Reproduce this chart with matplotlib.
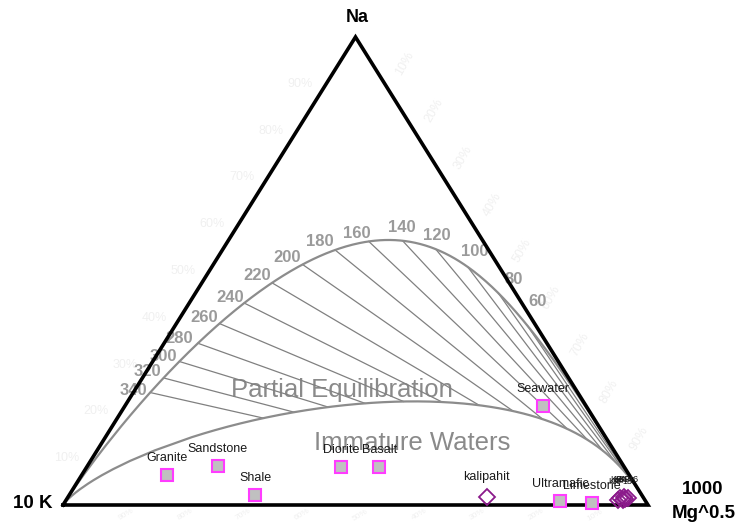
import numpy as np
import matplotlib.pyplot as plt

plt.rcParams['font.family'] = ['Liberation Sans', 'DejaVu Sans']

# isotherms labelled on the full equilibrium curve (deg C)
temps = [60, 80, 100, 120, 140, 160, 180, 200, 220, 240, 260, 280, 300, 320, 340]

# reference rocks / waters, plotted as % of Na, 10K, 1000*Mg^0.5
rock_names = ["Granite", "Sandstone", "Shale", "Diorite", "Basalt",
              "Seawater", "Ultramafic", "Limestone"]
rock_na = [6.4, 8.3, 2.1, 8.1, 8.1, 21.2, 0.9, 0.4]
rock_k = [79.0, 69.4, 66.1, 48.4, 41.9, 7.4, 14.6, 9.4]
rock_mg = [14.6, 22.3, 31.8, 43.5, 50.0, 71.4, 84.5, 90.2]

# water samples
water_names = ["kalipahit", "KP-1", "KP-2", "KP-3", "KP-4", "KP-5", "KP-6"]
water_na = [1.7, 1.1, 1.5, 1.1, 1.7, 1.3, 1.5]
water_k = [26.7, 4.6, 4.0, 3.8, 3.3, 3.2, 2.7]
water_mg = [71.6, 94.3, 94.5, 95.1, 95.0, 95.5, 95.8]

pct_ticks = [10, 20, 30, 40, 50, 60, 70, 80, 90]


def to_xy(na, k, mg):
    na, k, mg = np.asarray(na, float), np.asarray(k, float), np.asarray(mg, float)
    s = na + k + mg
    return (mg + na / 2) / s, na / s


def na_k_mg(t, mi=None):
    # Giggenbach 1988: Na-K and K-Mg geothermometers
    tk = np.asarray(t, float) + 273.15
    lkn = 1390.0 / tk - 1.75
    if mi is None:
        lkm = 14.0 - 4410.0 / tk
    else:
        # maturity index MI = 0.315 Lkm + Lkn
        lkm = (mi - lkn) / 0.315
    na = 10 ** (lkn - 1)
    k = np.ones_like(tk)
    mg = 10 ** (2 - lkm / 2)
    return na, k, mg


fig = plt.figure(figsize=(7.41, 5.24), dpi=100)
ax = fig.add_axes([63 / 741, 19 / 524, 585 / 741, 468 / 524])
ax.set_xlim(0, 1)
ax.set_ylim(0, 1)
ax.axis('off')

curve_col = '#8c8c8c'
t_fine = np.concatenate([np.linspace(0, 400, 400), np.linspace(401, 20000, 400)])

# full equilibrium curve
fx, fy = to_xy(*na_k_mg(t_fine))
fx = np.concatenate([[1.0], fx, [0.0]])
fy = np.concatenate([[0.0], fy, [0.0]])
ax.plot(fx, fy, color=curve_col, lw=1.6, zorder=3, clip_on=False)

# immature waters boundary (MI = 2.0)
ix, iy = to_xy(*na_k_mg(t_fine, mi=2.0))
ix = np.concatenate([[1.0], ix, [0.0]])
iy = np.concatenate([[0.0], iy, [0.0]])
ax.plot(ix, iy, color=curve_col, lw=1.6, zorder=3, clip_on=False)

# isotherm tie lines between the two curves
tx1, ty1 = to_xy(*na_k_mg(temps))
tx2, ty2 = to_xy(*na_k_mg(temps, mi=2.0))
for a, b, c, d in zip(tx1, ty1, tx2, ty2):
    ax.plot([a, c], [b, d], color='#808080', lw=0.9, zorder=2)

label_dx = [10, 15, 7, 1, -1, -12, -15, -15, -15, -14, -15, -19, -16, -16, -17]
label_dy = [24, 13, 15, 14, 13, 8, 8, 7, 7, 6, 6, 5, 5, 6, 2]
for t, x, y, dx, dy in zip(temps, tx1, ty1, label_dx, label_dy):
    ax.annotate(str(t), (x, y), xytext=(dx, dy), textcoords='offset pixels',
                ha='center', va='center', fontsize=12, fontweight='bold',
                color='#9a9a9a', zorder=4)

# triangle frame
ax.plot([0, 0.5, 1, 0], [0, 1, 0, 0], color='black', lw=2.6,
        solid_joinstyle='miter', zorder=5, clip_on=False)

# faint percentage scales
faint = '#f0f0f0'
for p in pct_ticks:
    f = p / 100
    ax.annotate(f"{p}%", (f / 2, f), xytext=(-26, 0), textcoords='offset pixels',
                ha='center', va='center', fontsize=9, color=faint,
                annotation_clip=False)
    ax.annotate(f"{p}%", (f + (1 - f) / 2, 1 - f), xytext=(20, 20),
                textcoords='offset pixels', ha='center', va='center',
                fontsize=9, color=faint, rotation=60, annotation_clip=False)
    ax.annotate(f"{p}%", (1 - f, 0), xytext=(5, -10), textcoords='offset pixels',
                ha='center', va='center', fontsize=6, color=faint,
                rotation=30, annotation_clip=False)

ax.text(0.477, 0.246, "Partial Equilibration", ha='center', va='center',
        fontsize=18.5, color='#8a8a8a', zorder=1)
ax.text(0.597, 0.132, "Immature Waters", ha='center', va='center',
        fontsize=18.5, color='#8a8a8a', zorder=1)

# rocks
rx, ry = to_xy(rock_na, rock_k, rock_mg)
ax.plot(rx, ry, 's', ms=8, mfc='#c0c0c0', mec='#ff3cff', mew=1.5,
        ls='none', zorder=6, clip_on=False)
for name, x, y in zip(rock_names, rx, ry):
    ax.annotate(name, (x, y), xytext=(0, 17), textcoords='offset pixels',
                ha='center', va='center', fontsize=9, color='#1a1a1a', zorder=7)

# waters
wx, wy = to_xy(water_na, water_k, water_mg)
ax.plot(wx, wy, 'D', ms=8, mfc='none', mec='#8b1a8b', mew=1.3,
        ls='none', zorder=6, clip_on=False)
for i, (name, x, y) in enumerate(zip(water_names, wx, wy)):
    if i == 0:
        ax.annotate(name, (x, y), xytext=(0, 20), textcoords='offset pixels',
                    ha='center', va='center', fontsize=9, color='#1a1a1a', zorder=7)
    else:
        ax.annotate(name, (x, y), xytext=(0, 18), textcoords='offset pixels',
                    ha='center', va='center', fontsize=6.5, color='#1a1a1a', zorder=7)

# vertex labels
fig.text(357 / 741, 1 - 17 / 524, "Na", ha='center', va='center',
         fontsize=13, fontweight='bold')
fig.text(33 / 741, 1 - 503 / 524, "10 K", ha='center', va='center',
         fontsize=13.5, fontweight='bold')
fig.text(703 / 741, 1 - 490 / 524, "1000", ha='center', va='center',
         fontsize=13.5, fontweight='bold')
fig.text(704 / 741, 1 - 513 / 524, "Mg^0.5", ha='center', va='center',
         fontsize=13.5, fontweight='bold')

fig.savefig('out.png', dpi=100)
